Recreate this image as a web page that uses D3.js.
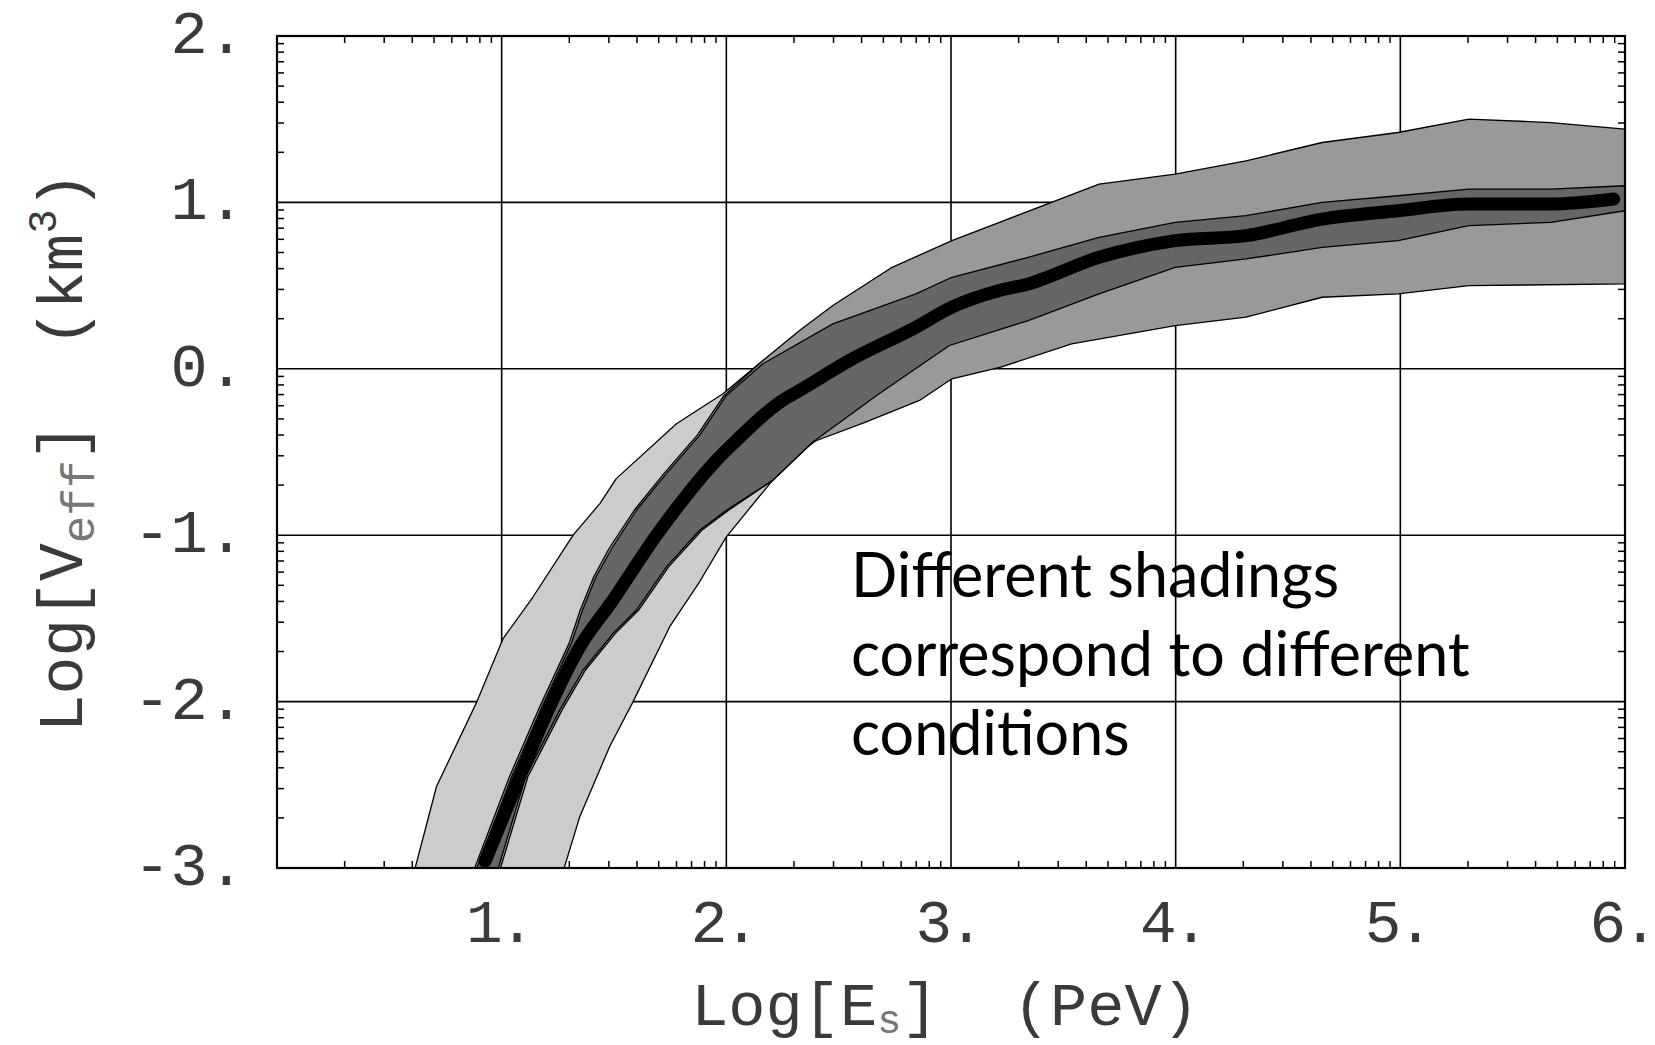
<!DOCTYPE html>
<html>
<head>
<meta charset="utf-8">
<script src="https://cdn.jsdelivr.net/npm/d3@7"></script>
<style>
  body { margin: 0; background: #fff; }
  svg { display: block; }
</style>
</head>
<body>
<svg id="chart" width="1655" height="1045"></svg>
<script>
// axis values
const xTicks = [1, 2, 3, 4, 5, 6];
const xTickLabels = ["1.", "2.", "3.", "4.", "5.", "6."];
const yTicks = [-3, -2, -1, 0, 1, 2];
const yTickLabels = ["-3.", "-2.", "-1.", "0.", "1.", "2."];
const minorSteps = [2, 3, 4, 5, 6, 7, 8, 9];

// light grey band (edges, [logE, logV])
const lightUpper = [[0.615,-3.0],[0.71,-2.51],[0.89,-2.0],[1.007,-1.62],[1.14,-1.37],[1.318,-1.0],[1.437,-0.81],[1.51,-0.66],[1.778,-0.33],[1.985,-0.15],[2.163,0.05],[2.4,0.2]];
const lightLower = [[1.278,-3.0],[1.348,-2.69],[1.481,-2.27],[1.585,-2.0],[1.748,-1.55],[1.881,-1.28],[2.0,-1.01],[2.133,-0.79],[2.267,-0.57],[2.4,-0.43]];

// medium grey band
const mediumUpper = [[0.88,-3.0],[1.035,-2.45],[1.17,-2.03],[1.30,-1.65],[1.35,-1.45],[1.41,-1.25],[1.478,-1.08],[1.59,-0.85],[1.722,-0.63],[1.87,-0.40],[1.99,-0.16],[2.163,0.05],[2.326,0.23],[2.474,0.38],[2.738,0.61],[3.004,0.77],[3.659,1.11],[3.998,1.17],[4.313,1.25],[4.652,1.36],[4.99,1.42],[5.305,1.50],[5.67,1.48],[6.0,1.44]];
const mediumLower = [[0.995,-3.0],[1.117,-2.45],[1.269,-2.05],[1.373,-1.81],[1.506,-1.59],[1.61,-1.45],[1.743,-1.19],[1.891,-0.97],[2.01,-0.85],[2.207,-0.67],[2.385,-0.44],[2.62,-0.32],[2.86,-0.19],[3.004,-0.06],[3.222,0.01],[3.537,0.15],[3.998,0.26],[4.313,0.31],[4.652,0.43],[4.99,0.45],[5.305,0.50],[6.0,0.51]];

// dark grey band
const darkUpper = [[0.89,-3.0],[1.045,-2.45],[1.18,-2.03],[1.31,-1.65],[1.36,-1.45],[1.42,-1.25],[1.49,-1.08],[1.6,-0.85],[1.733,-0.63],[1.881,-0.40],[2.0,-0.16],[2.163,0.03],[2.474,0.27],[2.844,0.45],[3.004,0.55],[3.344,0.67],[3.659,0.79],[3.998,0.88],[4.313,0.92],[4.652,1.0],[4.99,1.04],[5.305,1.08],[5.67,1.08],[6.0,1.10]];
const darkLower = [[0.985,-3.0],[1.107,-2.45],[1.259,-2.05],[1.363,-1.81],[1.496,-1.59],[1.6,-1.45],[1.733,-1.19],[1.881,-0.97],[2.0,-0.85],[2.207,-0.67],[2.385,-0.44],[2.68,-0.15],[2.993,0.14],[3.344,0.29],[3.659,0.45],[3.998,0.61],[4.313,0.66],[4.652,0.73],[4.99,0.77],[5.305,0.86],[5.67,0.88],[6.0,0.95]];

// central curve
const centralLine = [[0.926,-2.96],[1.081,-2.45],[1.214,-2.03],[1.348,-1.67],[1.49,-1.40],[1.689,-1.0],[1.80,-0.80],[1.956,-0.55],[2.03,-0.45],[2.25,-0.19],[2.326,-0.13],[2.548,0.05],[2.844,0.25],[3.004,0.37],[3.215,0.47],[3.344,0.51],[3.659,0.67],[3.998,0.77],[4.313,0.80],[4.652,0.90],[4.99,0.95],[5.305,0.99],[5.67,0.99],[5.95,1.02]];

const noteLines = ["Different shadings", "correspond to different", "conditions"];

const svg = d3.select("#chart");
const margin = { top: 36, right: 30, bottom: 177, left: 277 };
const W = +svg.attr("width"), H = +svg.attr("height");

const x = d3.scaleLinear().domain([0, 6]).range([margin.left, W - margin.right]);
const y = d3.scaleLinear().domain([-3, 2]).range([H - margin.bottom, margin.top]);

const monoFont = "'Liberation Mono', 'DejaVu Sans Mono', monospace";
const textGrey = "#3a3a3a";

svg.append("defs").append("clipPath").attr("id", "plotClip")
  .append("rect")
  .attr("x", x(0)).attr("y", y(2))
  .attr("width", x(6) - x(0)).attr("height", y(-3) - y(2));

// grid lines
svg.append("g")
  .selectAll("line")
  .data(xTicks.slice(0, -1))
  .enter().append("line")
  .attr("x1", d => x(d)).attr("x2", d => x(d))
  .attr("y1", y(2)).attr("y2", y(-3))
  .attr("stroke", "#000").attr("stroke-width", 1.6);

svg.append("g")
  .selectAll("line")
  .data(yTicks.slice(1, -1))
  .enter().append("line")
  .attr("x1", x(0)).attr("x2", x(6))
  .attr("y1", d => y(d)).attr("y2", d => y(d))
  .attr("stroke", "#000").attr("stroke-width", 1.6);

// log minor ticks on all four sides
const xMinor = [], yMinor = [];
for (let n = 0; n < 6; n++) minorSteps.forEach(k => xMinor.push(n + Math.log10(k)));
for (let n = -3; n < 2; n++) minorSteps.forEach(k => yMinor.push(n + Math.log10(k)));
const tickLen = 7;
const ticks = svg.append("g").attr("stroke", "#000").attr("stroke-width", 1.5);
xMinor.forEach(v => {
  ticks.append("line").attr("x1", x(v)).attr("x2", x(v)).attr("y1", y(-3)).attr("y2", y(-3) - tickLen);
  ticks.append("line").attr("x1", x(v)).attr("x2", x(v)).attr("y1", y(2)).attr("y2", y(2) + tickLen);
});
yMinor.forEach(v => {
  ticks.append("line").attr("x1", x(0)).attr("x2", x(0) + tickLen).attr("y1", y(v)).attr("y2", y(v));
  ticks.append("line").attr("x1", x(6)).attr("x2", x(6) - tickLen).attr("y1", y(v)).attr("y2", y(v));
});

// shaded bands
const edge = d3.line().x(d => x(d[0])).y(d => y(d[1]));
const bands = [
  { upper: lightUpper, lower: lightLower, fill: "#cccccc" },
  { upper: mediumUpper, lower: mediumLower, fill: "#999999" },
  { upper: darkUpper, lower: darkLower, fill: "#666666" }
];
const plot = svg.append("g").attr("clip-path", "url(#plotClip)");
bands.forEach(b => {
  plot.append("path")
    .attr("d", edge(b.upper.concat(b.lower.slice().reverse())) + "Z")
    .attr("fill", b.fill)
    .attr("stroke", "#000")
    .attr("stroke-width", 1.3)
    .attr("stroke-linejoin", "round");
});

plot.append("path")
  .datum(centralLine)
  .attr("d", d3.line().x(d => x(d[0])).y(d => y(d[1])).curve(d3.curveMonotoneX))
  .attr("fill", "none")
  .attr("stroke", "#000")
  .attr("stroke-width", 13)
  .attr("stroke-linecap", "round")
  .attr("stroke-linejoin", "round");

// frame
svg.append("rect")
  .attr("x", x(0)).attr("y", y(2))
  .attr("width", x(6) - x(0)).attr("height", y(-3) - y(2))
  .attr("fill", "none").attr("stroke", "#000").attr("stroke-width", 2.2);

// tick labels
svg.append("g")
  .selectAll("text")
  .data(xTicks)
  .enter().append("text")
  .attr("x", d => x(d) - 3)
  .attr("y", y(-3) + 74)
  .attr("text-anchor", "middle")
  .style("font-family", monoFont)
  .style("font-size", "61px")
  .style("letter-spacing", "-4px")
  .attr("fill", textGrey)
  .text((d, i) => xTickLabels[i]);

svg.append("g")
  .selectAll("text")
  .data(yTicks)
  .enter().append("text")
  .attr("x", x(0) - 32)
  .attr("y", d => y(d) + 17)
  .attr("text-anchor", "end")
  .style("font-family", monoFont)
  .style("font-size", "62px")
  .attr("fill", textGrey)
  .text((d, i) => yTickLabels[i]);

// axis titles
const xTitle = svg.append("text")
  .attr("x", (x(0) + x(6)) / 2 - 6)
  .attr("y", H - 20)
  .attr("text-anchor", "middle")
  .style("font-family", monoFont)
  .style("font-size", "62px")
  .style("white-space", "pre")
  .attr("fill", textGrey);
xTitle.append("tspan").text("Log[E");
xTitle.append("tspan").attr("dy", 8).style("font-size", "40px").attr("fill", "#777").text("s");
xTitle.append("tspan").attr("dy", -8).text("]  (PeV)");

const yTitle = svg.append("text")
  .attr("transform", `translate(82,${(y(2) + y(-3)) / 2}) rotate(-90)`)
  .attr("text-anchor", "middle")
  .style("font-family", monoFont)
  .style("font-size", "63px")
  .style("white-space", "pre")
  .attr("fill", textGrey);
yTitle.append("tspan").text("Log[V");
yTitle.append("tspan").attr("dy", 12).style("font-size", "46px").attr("fill", "#777").text("eff");
yTitle.append("tspan").attr("dy", -12).text("]  (km");
yTitle.append("tspan").attr("dy", -26).style("font-size", "40px").text("3");
yTitle.append("tspan").attr("dy", 26).text(")");

// annotation
svg.append("g")
  .selectAll("text")
  .data(noteLines)
  .enter().append("text")
  .attr("x", 851)
  .attr("y", (d, i) => 597 + i * 79)
  .style("font-family", "Lato, 'Open Sans', sans-serif")
  .style("font-size", "61px")
  .attr("fill", "#000")
  .text(d => d);
</script>
</body>
</html>
